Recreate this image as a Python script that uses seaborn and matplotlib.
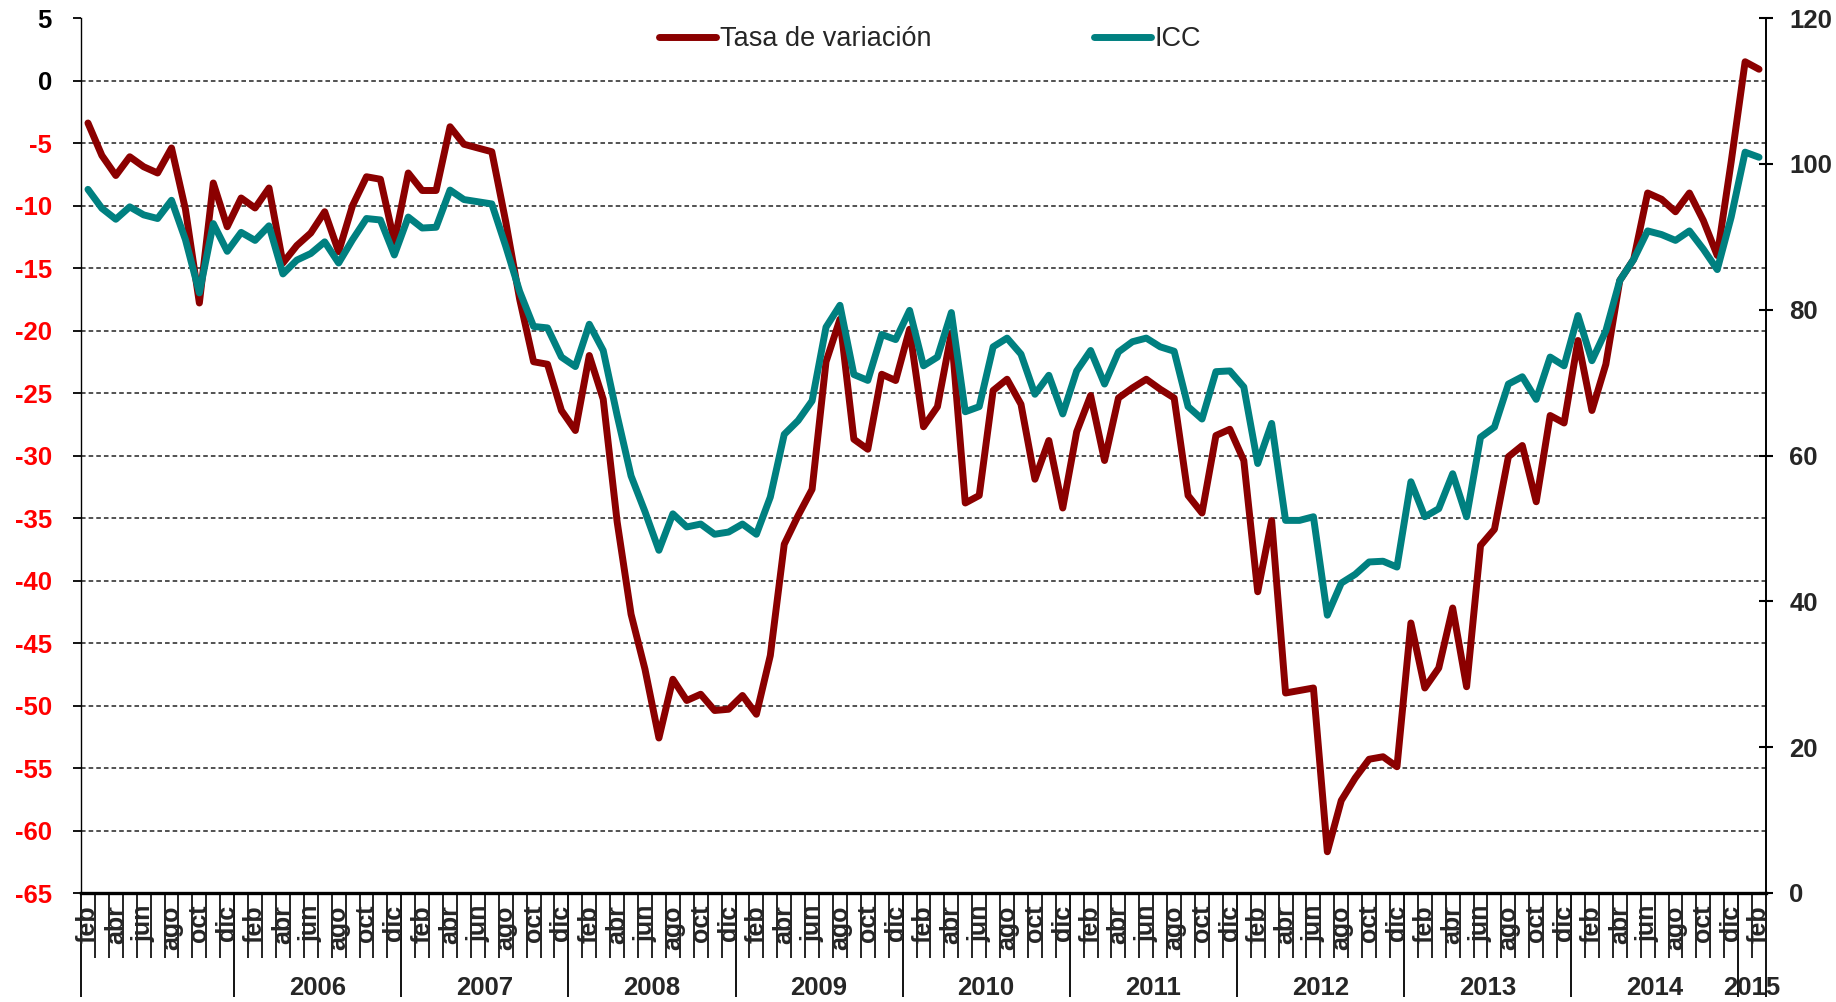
import numpy as np
import pandas as pd
import matplotlib
matplotlib.use("Agg")
import matplotlib.pyplot as plt
import matplotlib.transforms as mtransforms
import seaborn as sns

# meses (ene..dic), serie mensual desde feb 2005 hasta feb 2015
MESES = ["ene", "feb", "mar", "abr", "may", "jun",
         "jul", "ago", "sep", "oct", "nov", "dic"]
INICIO = "2005-02"
ANIO_SIN_ETIQUETA = [2005]   # el primer año aparece sin rótulo

# tasa de variación (eje izquierdo)
tasa = [
    -3.4, -6.0, -7.6, -6.1, -6.9, -7.4, -5.4, -10.3, -17.8, -8.2, -11.7,
    -9.4, -10.2, -8.6, -14.6, -13.2, -12.2, -10.5, -13.7, -10.0, -7.7, -7.9, -12.9, -7.4,
    -8.8, -8.8, -3.7, -5.1, -5.4, -5.7, -11.3, -17.5, -22.5, -22.7, -26.4, -28.0,
    -22.0, -25.5, -35.3, -42.7, -47.1, -52.6, -47.9, -49.6, -49.1, -50.4, -50.3, -49.2,
    -50.7, -46.0, -37.1, -34.8, -32.7, -22.5, -19.1, -28.7, -29.5, -23.5, -24.0, -19.9,
    -27.7, -26.1, -20.2, -33.8, -33.2, -24.8, -23.9, -25.9, -31.9, -28.8, -34.2, -28.1,
    -25.2, -30.4, -25.4, -24.6, -23.9, -24.7, -25.4, -33.2, -34.6, -28.4, -27.9, -30.4,
    -40.9, -35.2, -49.0, -48.8, -48.6, -61.7, -57.6, -55.8, -54.3, -54.1, -54.9, -43.4,
    -48.6, -47.0, -42.2, -48.5, -37.2, -35.9, -30.1, -29.2, -33.7, -26.8, -27.4, -20.8,
    -26.4, -22.7, -16.0, -14.3, -9.0, -9.5, -10.5, -9.0, -11.2, -14.0, -6.5, 1.5,
    0.9,
]

# ICC (eje derecho)
icc = [
    96.5, 93.9, 92.4, 94.1, 93.0, 92.5, 95.0, 89.6, 82.3, 91.8, 88.0,
    90.6, 89.5, 91.5, 84.9, 86.8, 87.7, 89.3, 86.4, 89.6, 92.5, 92.3, 87.5, 92.7,
    91.2, 91.3, 96.4, 95.1, 94.8, 94.5, 88.7, 82.5, 77.7, 77.5, 73.5, 72.2,
    78.0, 74.4, 65.5, 57.2, 52.3, 47.0, 52.0, 50.2, 50.6, 49.2, 49.5, 50.6,
    49.2, 54.3, 62.9, 64.8, 67.5, 77.6, 80.6, 71.1, 70.3, 76.6, 75.9, 79.9,
    72.3, 73.5, 79.6, 66.0, 66.7, 74.9, 76.1, 73.9, 68.4, 71.0, 65.7, 71.6,
    74.4, 69.8, 74.2, 75.6, 76.1, 74.9, 74.3, 66.7, 65.0, 71.5, 71.6, 69.4,
    58.9, 64.4, 51.1, 51.1, 51.6, 38.1, 42.5, 43.7, 45.4, 45.5, 44.7, 56.4,
    51.6, 52.7, 57.5, 51.6, 62.5, 63.9, 69.8, 70.8, 67.7, 73.5, 72.3, 79.2,
    73.0, 77.1, 84.0, 86.9, 90.8, 90.3, 89.5, 90.8, 88.3, 85.5, 92.7, 101.6,
    100.9,
]

LEFT_TICKS = list(range(-65, 10, 5))
RIGHT_TICKS = list(range(0, 140, 20))

ROJO = "#8B0000"
VERDE = "#008080"

sns.set_theme(style="white")
plt.rcParams["font.family"] = ["Liberation Sans", "DejaVu Sans"]

periodos = pd.period_range(INICIO, periods=len(tasa), freq="M")
df = pd.DataFrame({
    "pos": np.arange(len(tasa)),
    "tasa": tasa,
    "icc": icc,
    "mes": [MESES[p.month - 1] for p in periodos],
    "anio": [p.year for p in periodos],
})
n = len(df)

fig = plt.figure(figsize=(18.36, 10.02), dpi=100)
ax = fig.add_axes([81 / 1836, 109 / 1002, 1685 / 1836, 875 / 1002])
ax2 = ax.twinx()

sns.lineplot(data=df, x="pos", y="tasa", ax=ax, color=ROJO, lw=5,
             solid_joinstyle="round", solid_capstyle="round", legend=False)
sns.lineplot(data=df, x="pos", y="icc", ax=ax2, color=VERDE, lw=5,
             solid_joinstyle="round", solid_capstyle="round", legend=False)

ax.set_xlim(-0.5, n - 0.5)
ax.set_ylim(-65, 5)
ax2.set_ylim(0, 120)

# gridlines
for v in LEFT_TICKS:
    if -65 < v < 5:
        ax.axhline(v, color="#222222", lw=1.1, ls=(0, (3, 2)), zorder=0)

# left axis
ax.set_yticks(LEFT_TICKS)
ax.set_yticklabels([str(v) for v in LEFT_TICKS], fontsize=18.5, fontweight="bold")
for lab, v in zip(ax.get_yticklabels(), LEFT_TICKS):
    lab.set_color("#FF0000" if v < 0 else "black")
ax.tick_params(axis="y", which="major", direction="out", length=6, width=1.3,
               color="black", pad=15, left=True)

# right axis
ax2.set_yticks(RIGHT_TICKS)
ax2.set_yticklabels([str(v) for v in RIGHT_TICKS], fontsize=18.5, fontweight="bold")
ax2.tick_params(axis="y", direction="inout", length=9.5, width=1.5,
                color="black", pad=12, right=True)

# x axis: month ticks + year separators
bordes = np.arange(-0.5, n, 1.0)
cortes = [-0.5] + [i - 0.5 for i in range(1, n) if df["mes"][i] == "ene"] + [n - 0.5]
ax.set_xticks(cortes)
ax.set_xticklabels([])
ax.set_xticks([b for b in bordes if b not in cortes], minor=True)
ax.tick_params(axis="x", which="major", direction="out", length=75, width=1.3,
               color="black", bottom=True)
ax.tick_params(axis="x", which="minor", direction="out", length=47, width=1.2,
               color="black", bottom=True)
ax.set_xlabel("")
ax.set_ylabel("")
ax2.set_ylabel("")

trans = mtransforms.blended_transform_factory(ax.transData, ax.transAxes)
for i in range(0, n, 2):
    ax.text(i, -12 / 875, df["mes"][i], transform=trans, rotation=90,
            ha="center", va="top", fontsize=18, fontweight="bold")

for anio, grupo in df.groupby("anio"):
    if anio in ANIO_SIN_ETIQUETA:
        continue
    centro = (grupo["pos"].min() + grupo["pos"].max()) / 2
    ax.text(centro, -95 / 875, str(anio), transform=trans, ha="center",
            va="center", fontsize=18.5, fontweight="bold")

# spines
for sp in ["top", "right"]:
    ax.spines[sp].set_visible(False)
ax.spines["left"].set_color("black")
ax.spines["left"].set_linewidth(1.0)
ax.spines["bottom"].set_color("black")
ax.spines["bottom"].set_linewidth(2.4)
for sp in ["top", "left", "bottom"]:
    ax2.spines[sp].set_visible(False)
ax2.spines["right"].set_color("black")
ax2.spines["right"].set_linewidth(1.4)

# legend
handles = [ax.get_lines()[0], ax2.get_lines()[0]]
leg = ax2.legend(handles, ["Tasa de variación", "ICC"], ncol=2,
                 loc="center left", bbox_to_anchor=((659 - 81) / 1685, (893 - 39) / 875),
                 frameon=False, fontsize=19.5, handlelength=2.1,
                 handletextpad=0.15, columnspacing=6.0, borderpad=0,
                 borderaxespad=0)

fig.savefig("out.png", dpi=100)
